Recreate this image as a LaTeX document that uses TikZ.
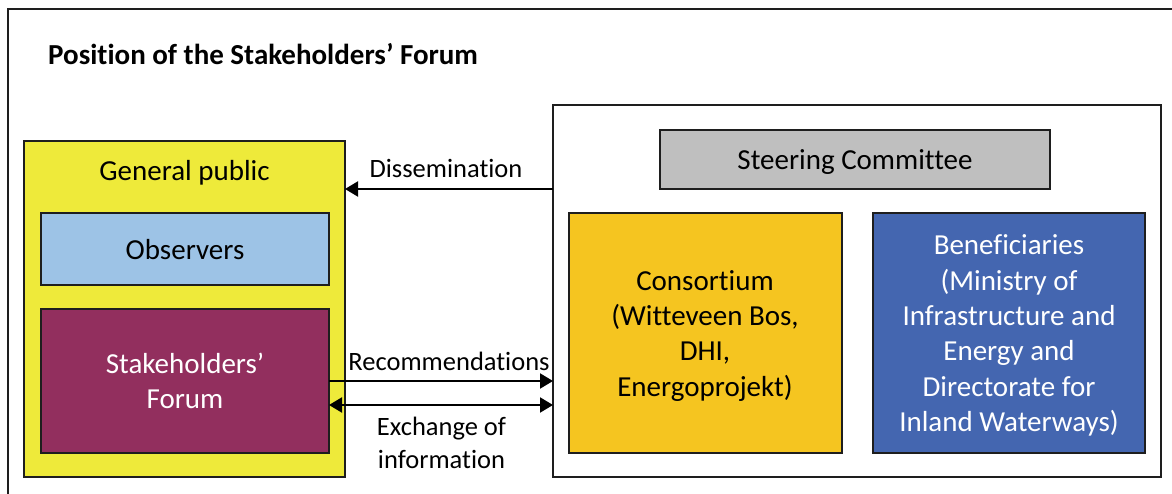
\documentclass[tikz,border=0pt]{standalone}
\usepackage{fontspec}
\setmainfont{Carlito}[Ligatures=NoCommon]
\usetikzlibrary{arrows.meta}
\definecolor{gpyellow}{RGB}{238,234,58}
\definecolor{obsblue}{RGB}{157,195,230}
\definecolor{forumred}{RGB}{146,47,94}
\definecolor{steergray}{RGB}{191,191,191}
\definecolor{consgold}{RGB}{245,197,32}
\definecolor{benblue}{RGB}{68,102,176}
\definecolor{edge}{RGB}{30,30,30}
\tikzset{
  boxfont/.style={font=\fontsize{29}{35.4}\selectfont},
  labfont/.style={font=\fontsize{26.5}{32.3}\selectfont},
  box/.style={draw=edge, line width=2pt, rectangle, inner sep=0pt, outer sep=0pt, boxfont, align=center, text depth=7.5pt},
  lines1/.style={text height=27.9pt},
  lines2/.style={text height=63.3pt},
  lines4/.style={text height=134.1pt},
  lines6/.style={text height=204.9pt},
  arr/.style={line width=2pt, draw=black, -{Triangle[length=13pt,width=15pt]}},
  darr/.style={line width=2pt, draw=black, {Triangle[length=13pt,width=15pt]}-{Triangle[length=13pt,width=15pt]}},
  lab/.style={labfont, align=center, inner sep=0pt, anchor=base},
}
\begin{document}
\begin{tikzpicture}[x=1pt,y=-1pt]
\useasboundingbox (0,0) rectangle (1172,494);
\fill[white] (0,0) rectangle (1172,494);
% outer frame (only top and left edges inside the picture)
\draw[edge, line width=2pt] (7.5,494) -- (7.5,9.5) -- (1172,9.5);
\node[anchor=base west, inner sep=0pt, font=\bfseries\fontsize{29}{35}\selectfont] (title) at (48,65) {Position of the Stakeholders’ Forum};
% left group
\node[box, fill=gpyellow, minimum width=321pt, minimum height=336pt] (gp) at (184.5,309) {};
\node[lab, boxfont] (gplab) at (184.5,181) {General public};
\node[box, lines1, fill=obsblue, minimum width=288pt, minimum height=72pt] (obs) at (185,249) {Observers};
\node[box, lines2, fill=forumred, text=white, minimum width=288pt, minimum height=144pt] (forum) at (185,381) {Stakeholders’\\Forum};
% right group
\node[box, fill=white, minimum width=608pt, minimum height=372pt] (right) at (857,291) {};
\node[box, lines1, fill=steergray, minimum width=390pt, minimum height=59pt] (steer) at (855,159.5) {Steering Committee};
\node[box, lines4, fill=consgold, minimum width=273pt, minimum height=240pt] (cons) at (705,333) {Consortium\\(Witteveen Bos,\\DHI,\\Energoprojekt)};
\node[box, lines6, fill=benblue, text=white, minimum width=272pt, minimum height=240pt] (ben) at (1009,333) {Beneficiaries\\(Ministry of\\Infrastructure and\\Energy and\\Directorate for\\Inland Waterways)};
% connectors
\draw[arr] (right.west |- steer.south) -- (gp.east |- steer.south);
\draw[arr] (forum.east) -- (right.west |- forum.east);
\draw[darr] ([yshift=-24pt]forum.east) -- ([yshift=-24pt]right.west |- forum.east);
% labels
\node[lab] (dis) at (446,178) {Dissemination};
\node[lab] (rec) at (449,370) {Recommendations};
\node[lab] (exch) at (441.5,468) {Exchange of\\information};
\end{tikzpicture}
\end{document}
